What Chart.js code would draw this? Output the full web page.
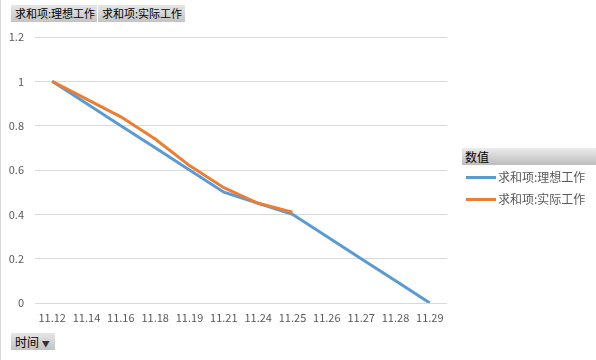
<!DOCTYPE html>
<html>
<head>
<meta charset="utf-8">
<script src="https://cdn.jsdelivr.net/npm/chart.js@4"></script>
<style>
    body { margin: 0; background: #fff; font-family: "Noto Sans CJK SC", sans-serif; }
    #wrap { position: relative; width: 596px; height: 360px; border-left: 1px solid #d9d9d9; box-sizing: border-box; }
    #myChart { position: absolute; left: 0; top: 0; }
    .btn {
        position: absolute; height: 17px; line-height: 17px; font-size: 11px; color: #000;
        background: linear-gradient(#e6e6e6, #c3c3c3); padding: 0 4px; box-sizing: border-box; white-space: nowrap;
    }
    #legendHead {
        position: absolute; left: 461px; top: 148px; width: 135px; height: 17px; line-height: 17px;
        font-size: 12px; color: #000; padding-left: 3px; box-sizing: border-box;
        background: linear-gradient(#ececec, #bcbcbc);
    }
    .item { position: absolute; left: 465px; height: 16px; line-height: 16px; font-size: 12px; color: #595959; white-space: nowrap; }
    .item span { display: inline-block; width: 30px; height: 3px; vertical-align: middle; margin-right: 2px; position: relative; top: -1px; }
</style>
</head>
<body>
<div id="wrap">
    <canvas id="myChart" width="595" height="360"></canvas>
    <div class="btn" style="left:10px; top:5px; width:86px;">求和项:理想工作</div>
    <div class="btn" style="left:97px; top:5px; width:87px;">求和项:实际工作</div>
    <div id="legendHead">数值</div>
    <div id="legend"></div>
    <div class="btn" style="left:10px; top:333px; width:44px; font-size:12px;">时间 <span style="font-size:8px; color:#333;">▼</span></div>
</div>
<script>
    // 数据
    var categories = ['11.12', '11.14', '11.16', '11.18', '11.19', '11.21', '11.24', '11.25', '11.26', '11.27', '11.28', '11.29'];
    var seriesNames = ['求和项:理想工作', '求和项:实际工作'];
    var idealWork = [1, 0.9, 0.8, 0.7, 0.6, 0.5, 0.45, 0.4, 0.3, 0.2, 0.1, 0];
    var actualWork = [1, 0.92, 0.84, 0.74, 0.62, 0.52, 0.45, 0.41, null, null, null, null];
    var seriesColors = ['#5b9bd5', '#ed7d31'];

    var chartData = {
        labels: categories,
        datasets: [{
            label: seriesNames[0],
            data: idealWork,
            borderColor: seriesColors[0],
            borderWidth: 3,
            pointRadius: 0,
            tension: 0,
            order: 2
        }, {
            label: seriesNames[1],
            data: actualWork,
            borderColor: seriesColors[1],
            borderWidth: 3,
            pointRadius: 0,
            tension: 0,
            spanGaps: false,
            order: 1
        }]
    };

    var chartOptions = {
        responsive: false,
        animation: false,
        layout: {
            padding: { top: 37, left: 0, right: 149, bottom: 30 }
        },
        scales: {
            x: {
                offset: true,
                grid: { display: false, drawTicks: false },
                border: { display: false },
                ticks: {
                    color: '#595959',
                    padding: 8,
                    maxRotation: 0,
                    autoSkip: false,
                    font: { family: 'Noto Sans CJK SC', size: 11 }
                },
                afterFit: function (scale) {
                    scale.height = 27;
                }
            },
            y: {
                min: 0,
                max: 1.2,
                grid: { color: '#d9d9d9', drawTicks: false },
                border: { display: false },
                ticks: {
                    stepSize: 0.2,
                    color: '#595959',
                    padding: 11,
                    font: { family: 'Noto Sans CJK SC', size: 11 },
                    callback: function (value) {
                        return String(Number(value.toFixed(1)));
                    }
                },
                afterFit: function (scale) {
                    scale.width = 34;
                }
            }
        },
        plugins: {
            legend: { display: false },
            tooltip: { enabled: false }
        }
    };

    var ctx = document.getElementById('myChart').getContext('2d');
    var myChart = new Chart(ctx, {
        type: 'line',
        data: chartData,
        options: chartOptions
    });

    // 图例
    var legend = document.getElementById('legend');
    seriesNames.forEach(function (name, i) {
        var div = document.createElement('div');
        div.className = 'item';
        div.style.top = (169 + i * 22) + 'px';
        div.innerHTML = '<span style="background:' + seriesColors[i] + '"></span>' + name;
        legend.appendChild(div);
    });
</script>
</body>
</html>
